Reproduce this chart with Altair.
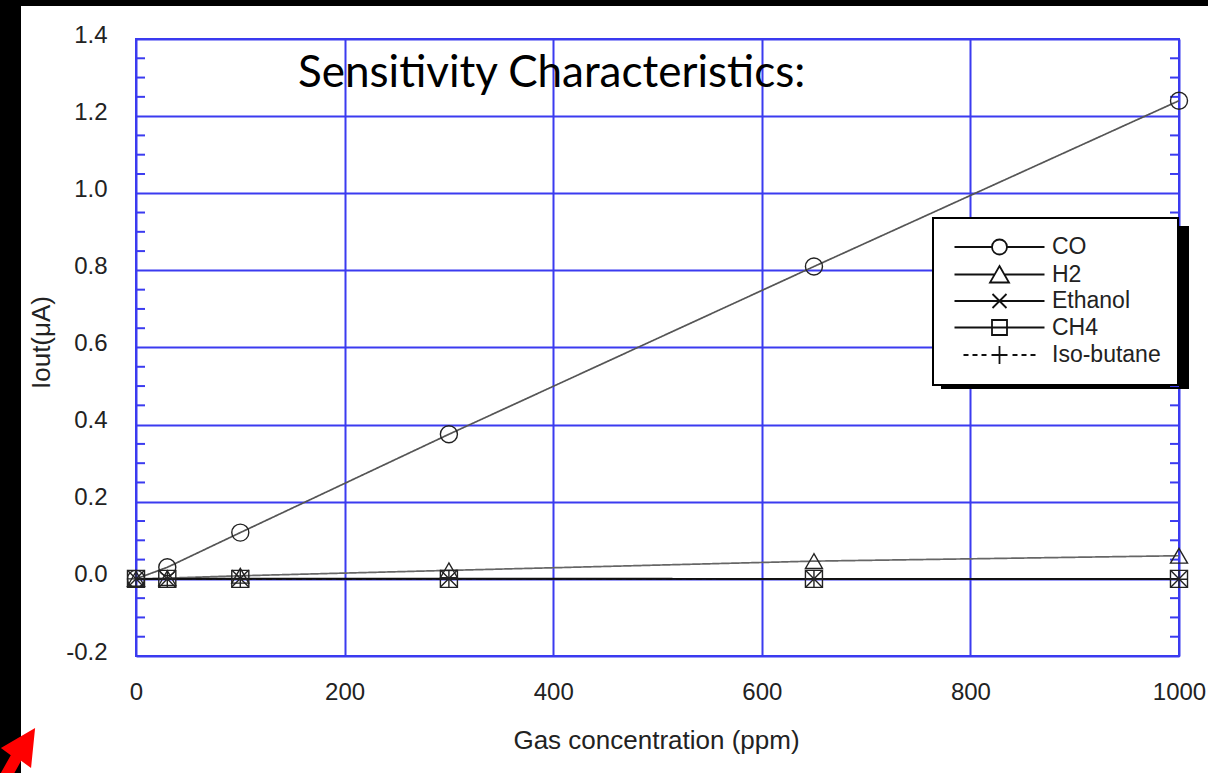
import altair as alt
import pandas as pd

# ---------------- data ----------------
SERIES = ["CO", "H2", "Ethanol", "CH4", "Iso-butane"]
GAS_PPM = [0, 30, 100, 300, 650, 1000]
CO = [0.0, 0.03, 0.12, 0.375, 0.81, 1.24]
H2 = [0.0, 0.002, 0.008, 0.022, 0.046, 0.06]
ETHANOL = [0.0, 0.0, 0.001, 0.001, 0.0, 0.0]
CH4 = [0.0, 0.0, 0.0, 0.0, 0.0, 0.0]
ISOBUTANE = [0.0, 0.0, -0.001, 0.0, -0.001, -0.001]
X_TICKS = [0, 200, 400, 600, 800, 1000]
Y_TICKS = [-0.2, 0.0, 0.2, 0.4, 0.6, 0.8, 1.0, 1.2, 1.4]
MINOR_Y = [-0.15, -0.1, -0.05, 0.05, 0.1, 0.15, 0.25, 0.3, 0.35, 0.45, 0.5, 0.55,
           0.65, 0.7, 0.75, 0.85, 0.9, 0.95, 1.05, 1.1, 1.15, 1.25, 1.3, 1.35]
TITLE = "Sensitivity Characteristics:"
X_TITLE = "Gas concentration (ppm)"
Y_TITLE = "Iout(μA)"

values = {"CO": CO, "H2": H2, "Ethanol": ETHANOL, "CH4": CH4, "Iso-butane": ISOBUTANE}
rows = []
for g in SERIES:
    for ppm, v in zip(GAS_PPM, values[g]):
        rows.append({"gas": g, "ppm": ppm, "iout": v})
df = pd.DataFrame(rows)
minor_df = pd.DataFrame({"iout": MINOR_Y})

# ---------------- styles ----------------
W, H = 1043, 617
BLUE = "#3b3bf0"
FONT = "Liberation Sans"

LINE_COLORS = ["#555555", "#666666", "#111111", "#111111", "#111111"]
LINE_DASH = [[1, 0], [1, 0], [1, 0], [1, 0], [6, 4]]
POINT_SHAPES = ["circle", "triangle-up", "M-1,-1L1,1M-1,1L1,-1", "square", "M-1,0L1,0M0,-1L0,1"]

# legend glyphs (line + marker), drawn in pixels then scaled to symbol units
LEG_SIDE = 22.0          # sqrt(symbol size) in px
U = LEG_SIDE / 2.0       # px per symbol unit


def u(v):
    return f"{v / U:.3f}"


def seg(x1, y1, x2, y2):
    return f"M{u(x1)},{u(y1)}L{u(x2)},{u(y2)}"


HALF = 45
R = 7.5
leg_circle = (seg(-HALF, 0, -R, 0) + seg(R, 0, HALF, 0)
              + f"M{u(R)},0A{u(R)},{u(R)},0,1,1,{u(-R)},0A{u(R)},{u(R)},0,1,1,{u(R)},0Z")
leg_tri = (seg(-HALF, 0, -4.5, 0) + seg(4.5, 0, HALF, 0)
           + f"M0,{u(-8.5)}L{u(9.5)},{u(8)}L{u(-9.5)},{u(8)}Z")
leg_x = seg(-HALF, 0, HALF, 0) + seg(-7, -7, 7, 7) + seg(-7, 7, 7, -7)
leg_sq = (seg(-HALF, 0, HALF, 0)
          + f"M{u(-7.5)},{u(-7.5)}L{u(7.5)},{u(-7.5)}L{u(7.5)},{u(7.5)}L{u(-7.5)},{u(7.5)}Z")
leg_plus = (seg(-36, 0, -31, 0) + seg(-27, 0, -22, 0) + seg(-18, 0, -13, 0)
            + seg(-8, 0, 8, 0) + seg(0, -9, 0, 9)
            + seg(13, 0, 18, 0) + seg(22, 0, 27, 0) + seg(31, 0, 36, 0))
LEGEND_SHAPES = [leg_circle, leg_tri, leg_x, leg_sq, leg_plus]

ARROW = "M0.76,-0.98L-0.76,-0.09L-0.32,0.23L-0.97,1.39L-0.51,1.65L0.14,0.48L0.58,0.8Z"

x_enc = alt.X(
    "ppm:Q",
    scale=alt.Scale(domain=[0, 1000], nice=False, zero=False),
    axis=alt.Axis(values=X_TICKS, format="d", title=X_TITLE, titleX=520, titleY=92,
                  titleBaseline="alphabetic", labelPadding=24, tickSize=0, labelFlush=False),
)
y_enc = alt.Y(
    "iout:Q",
    scale=alt.Scale(domain=[-0.2, 1.4], nice=False, zero=False),
    axis=alt.Axis(values=Y_TICKS, title=Y_TITLE, titleX=-95, titleY=303,
                  labelExpr="replace(format(datum.value, '.1f'), '\u2212', '-')",
                  titleBaseline="middle", labelPadding=29, tickSize=0, labelFlush=False,
                  labelBaseline="alphabetic", labelOffset=3),
)

one = alt.Data(values=[{"k": 1}])

left_strip = alt.Chart(one).mark_rect(color="black").encode(
    x=alt.value(-136), x2=alt.value(-115), y=alt.value(-39), y2=alt.value(740))
top_strip = alt.Chart(one).mark_rect(color="black").encode(
    x=alt.value(-136), x2=alt.value(1100), y=alt.value(-39), y2=alt.value(-33))
shadow = alt.Chart(one).mark_rect(color="black").encode(
    x=alt.value(805), x2=alt.value(1053), y=alt.value(187), y2=alt.value(350))

minor_left = alt.Chart(minor_df).mark_rule(color=BLUE, strokeWidth=2).encode(
    y=y_enc, x=alt.value(0), x2=alt.value(9))
minor_right = alt.Chart(minor_df).mark_rule(color=BLUE, strokeWidth=2).encode(
    y=y_enc, x=alt.value(W - 9), x2=alt.value(W))

lines = alt.Chart(df).mark_line(strokeWidth=1.7).encode(
    x=x_enc, y=y_enc,
    color=alt.Color("gas:N", scale=alt.Scale(domain=SERIES, range=LINE_COLORS), legend=None),
    strokeDash=alt.StrokeDash("gas:N", scale=alt.Scale(domain=SERIES, range=LINE_DASH), legend=None),
    detail="gas:N",
)

points = alt.Chart(df).mark_point(filled=False, size=290, strokeWidth=1.4, color="#222222", opacity=1).encode(
    x=x_enc, y=y_enc,
    shape=alt.Shape("gas:N", scale=alt.Scale(domain=SERIES, range=POINT_SHAPES), legend=None),
)

legend_layer = alt.Chart(df).mark_point(filled=False, size=LEG_SIDE ** 2, strokeWidth=1.8,
                                        color="#111111", opacity=0).encode(
    x=x_enc, y=y_enc,
    shape=alt.Shape(
        "gas:N",
        scale=alt.Scale(domain=SERIES, range=LEGEND_SHAPES),
        legend=alt.Legend(
            title=None, orient="none", legendX=797, legendY=179,
            fillColor="white", strokeColor="black", padding=17,
            symbolSize=LEG_SIDE ** 2, symbolStrokeWidth=1.8, symbolStrokeColor="#111111",
            symbolFillColor="transparent", symbolOpacity=1,
            symbolOffset=37.5, labelOffset=40.5, rowPadding=2.5,
            labelExpr="datum.label + '\u00a0'",
            labelFont=FONT, labelFontSize=23, labelColor="#222222", zindex=2,
        ),
    ),
)

title = alt.Chart(one).mark_text(
    text=TITLE, font="Lato", fontSize=44, color="black", align="left", baseline="alphabetic"
).encode(x=alt.value(162), y=alt.value(48))

arrow = alt.Chart(one).mark_point(shape=ARROW, filled=True, color="#ff0000", size=2025, opacity=1,
                                  strokeWidth=0).encode(x=alt.value(-118), y=alt.value(711))

chart = alt.layer(
    left_strip, top_strip, shadow, minor_left, minor_right, lines, points, legend_layer, title, arrow
).resolve_scale(shape="independent").properties(
    width=W, height=H,
    autosize=alt.AutoSizeParams(type="none"),
    padding={"left": 136, "top": 39, "right": 29, "bottom": 117},
    background="white",
).configure_view(
    stroke=BLUE, strokeWidth=2
).configure_axis(
    grid=True, gridColor=BLUE, gridWidth=2, gridOpacity=1, domain=False,
    labelFont=FONT, labelFontSize=24, labelColor="#222222",
    titleFont=FONT, titleFontSize=26, titleFontWeight="normal", titleColor="#222222",
).configure_legend(strokeWidth=2, cornerRadius=0)

chart.save("out.html", embed_options={"renderer": "svg", "actions": False})
